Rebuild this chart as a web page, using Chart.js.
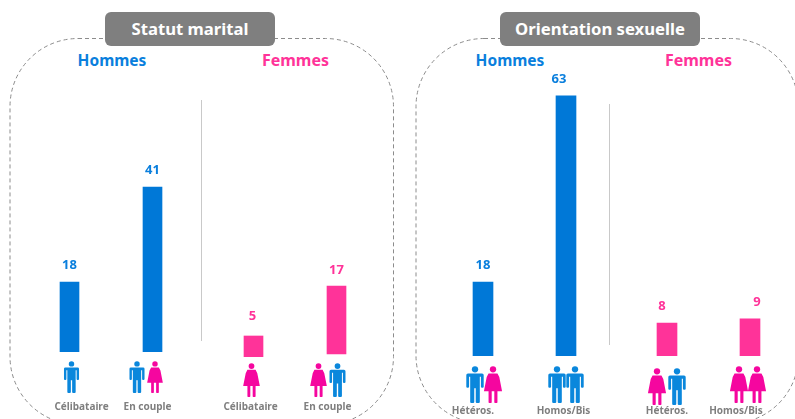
<!DOCTYPE html>
<html lang="fr">
<head>
<meta charset="utf-8">
<title>Statut marital et orientation sexuelle</title>
<script src="https://cdn.jsdelivr.net/npm/chart.js@4"></script>
<style>
    html, body { margin: 0; padding: 0; background: #fff; }
    #stage { position: relative; width: 795px; height: 419px; overflow: hidden; font-family: 'Noto Sans', sans-serif; }
    #stage canvas { position: absolute; top: 0; }
    #frames { position: absolute; left: 0; top: 0; }
    .pill { position: absolute; top: 12px; height: 34px; line-height: 34px; background: #7f7f7f; color: #fff; border-radius: 6px; text-align: center; font-weight: 700; font-size: 16.7px; }
    .head { position: absolute; top: 49px; width: 120px; text-align: center; font-weight: 700; font-size: 15.5px; line-height: 22px; }
    .sep { position: absolute; width: 1px; background: #c9c9c9; }
</style>
</head>
<body>
<div id="stage">
    <svg id="frames" width="795" height="419">
        <rect x="10" y="38.5" width="383.5" height="386" rx="68" fill="none" stroke="#8c8c8c" stroke-dasharray="4 3"/>
        <rect x="416" y="38.5" width="382.5" height="385" rx="68" fill="none" stroke="#8c8c8c" stroke-dasharray="4 3"/>
    </svg>
    <div class="sep" style="left:201px;top:100px;height:241px"></div>
    <div class="sep" style="left:609px;top:104px;height:241px"></div>
    <div class="pill" style="left:105px;width:170px">Statut marital</div>
    <div class="pill" style="left:500px;width:200px">Orientation sexuelle</div>
    <div class="head" style="left:52px;color:#0a7fdd">Hommes</div>
    <div class="head" style="left:235.5px;color:#ff3399;font-size:16px">Femmes</div>
    <div class="head" style="left:450px;color:#0a7fdd">Hommes</div>
    <div class="head" style="left:638.5px;color:#ff3399;font-size:16px">Femmes</div>
</div>

<script>
const statutLabels = ['Célibataire', 'En couple'];
const orientationLabels = ['Hétéros.', 'Homos/Bis'];

const statutHommes = [18, 41];
const statutFemmes = [5, 17];
const orientationHommes = [18, 63];
const orientationFemmes = [8, 9];

const blue = '#0078d7';
const pink = '#ff3399';
const valueBlue = '#0a7fdd';
const manColor = '#0a87dc';
const womanColor = '#f5069f';
const textGrey = '#7f7f7f';

// pictograms, unit height, centered on x = 0
function drawPerson(ctx, type, cx, top, h) {
    ctx.save();
    ctx.translate(cx, top);
    ctx.scale(h, h);
    ctx.fillStyle = type === 'man' ? manColor : womanColor;
    ctx.beginPath();
    ctx.arc(0, 0.09, 0.085, 0, Math.PI * 2);
    ctx.fill();
    ctx.beginPath();
    if (type === 'man') {
        ctx.roundRect(-0.235, 0.2, 0.47, 0.09, 0.06);
        ctx.rect(-0.13, 0.22, 0.26, 0.38);
        ctx.roundRect(-0.235, 0.22, 0.075, 0.37, 0.03);
        ctx.roundRect(0.16, 0.22, 0.075, 0.37, 0.03);
        ctx.roundRect(-0.13, 0.58, 0.11, 0.42, 0.03);
        ctx.roundRect(0.02, 0.58, 0.11, 0.42, 0.03);
    } else {
        ctx.moveTo(-0.12, 0.2);
        ctx.lineTo(0.12, 0.2);
        ctx.lineTo(0.17, 0.3);
        ctx.lineTo(0.245, 0.68);
        ctx.lineTo(-0.245, 0.68);
        ctx.lineTo(-0.17, 0.3);
        ctx.closePath();
        ctx.roundRect(-0.12, 0.66, 0.085, 0.34, 0.02);
        ctx.roundRect(0.035, 0.66, 0.085, 0.34, 0.02);
    }
    ctx.fill();
    ctx.restore();
}

// value above the bar, pictogram and label under it
const decorations = {
    id: 'decorations',
    afterDraw(chart, args, opts) {
        const ctx = chart.ctx;
        const xScale = chart.scales.x;
        chart.data.labels.forEach((label, i) => {
            const x = xScale.getPixelForValue(i);
            const bar = chart.getDatasetMeta(i).data[i];
            const value = chart.data.datasets[i].data[i];

            ctx.save();
            ctx.textAlign = 'center';
            ctx.textBaseline = 'middle';
            ctx.font = "700 13px 'Noto Sans', sans-serif";
            ctx.fillStyle = opts.valueColor;
            ctx.fillText(value, x + opts.valueDx[i], bar.y - opts.valueGap[i]);
            ctx.font = "700 10px 'Noto Sans', sans-serif";
            ctx.fillStyle = textGrey;
            ctx.fillText(label, x + opts.labelDx[i], opts.labelY);
            ctx.restore();

            opts.icons[i].forEach(p => drawPerson(ctx, p[0], x + p[1], p[2], p[3]));
        });
    }
};

function barGroup(g) {
    const canvas = document.createElement('canvas');
    canvas.style.left = g.left + 'px';
    canvas.width = g.width;
    canvas.height = 419;
    canvas.style.width = g.width + 'px';
    canvas.style.height = '419px';
    document.getElementById('stage').appendChild(canvas);

    // every bar has its own baseline and height ratio in the picture, so one hidden axis per bar
    const bottom = Math.max(...g.baselines);
    const scales = { x: { display: false } };
    const datasets = g.values.map((v, i) => {
        scales['y' + i] = {
            display: false,
            min: (g.baselines[i] - bottom) / g.pxPerUnit[i],
            max: g.baselines[i] / g.pxPerUnit[i]
        };
        return {
            data: g.values.map((d, j) => (j === i ? d : null)),
            yAxisID: 'y' + i,
            backgroundColor: g.color,
            barThickness: g.barWidth,
            grouped: false
        };
    });

    new Chart(canvas, {
        type: 'bar',
        data: { labels: g.labels, datasets: datasets },
        plugins: [decorations],
        options: {
            responsive: false,
            animation: false,
            layout: { padding: { left: g.pad, right: g.pad, top: 0, bottom: 419 - bottom } },
            scales: scales,
            plugins: {
                legend: { display: false },
                tooltip: { enabled: false },
                decorations: {
                    valueColor: g.valueColor,
                    valueDx: g.valueDx,
                    valueGap: g.valueGap,
                    labelDx: g.labelDx,
                    labelY: g.labelY,
                    icons: g.icons
                }
            }
        }
    });
}

barGroup({
    labels: statutLabels, values: statutHommes, color: blue, valueColor: valueBlue,
    left: 28, width: 166, pad: 0, barWidth: 19, baselines: [352, 352], pxPerUnit: [3.89, 4.02],
    valueDx: [0, 0], valueGap: [17, 17], labelDx: [12, -5], labelY: 407,
    icons: [[['man', 2, 361, 32]], [['man', -15.5, 361, 32], ['woman', 2.5, 361, 32]]]
});
barGroup({
    labels: statutLabels, values: statutFemmes, color: pink, valueColor: pink,
    left: 212, width: 166, pad: 0, barWidth: 19, baselines: [357, 354], pxPerUnit: [4.2, 4],
    valueDx: [-1, 0], valueGap: [20, 16], labelDx: [-3, -9], labelY: 407,
    icons: [[['woman', -2, 363, 34]], [['woman', -18, 363, 34], ['man', 1, 363, 34]]]
});
barGroup({
    labels: orientationLabels, values: orientationHommes, color: blue, valueColor: valueBlue,
    left: 441, width: 167, pad: 0.5, barWidth: 20, baselines: [356, 356], pxPerUnit: [4.11, 4.13],
    valueDx: [0, -7], valueGap: [17, 17], labelDx: [-10, -2.5], labelY: 411,
    icons: [[['man', -8, 366, 37], ['woman', 10, 366, 37]], [['man', -9, 366, 37], ['man', 9, 366, 37]]]
});
barGroup({
    labels: orientationLabels, values: orientationFemmes, color: pink, valueColor: pink,
    left: 625, width: 167, pad: 0.5, barWidth: 20, baselines: [356, 356], pxPerUnit: [4.13, 4.13],
    valueDx: [-5, 7], valueGap: [17, 17], labelDx: [0, -14], labelY: 411,
    icons: [[['woman', -10, 368, 37], ['man', 10, 368, 37]], [['woman', -11, 366, 37], ['woman', 7, 366, 37]]]
});
</script>
</body>
</html>
